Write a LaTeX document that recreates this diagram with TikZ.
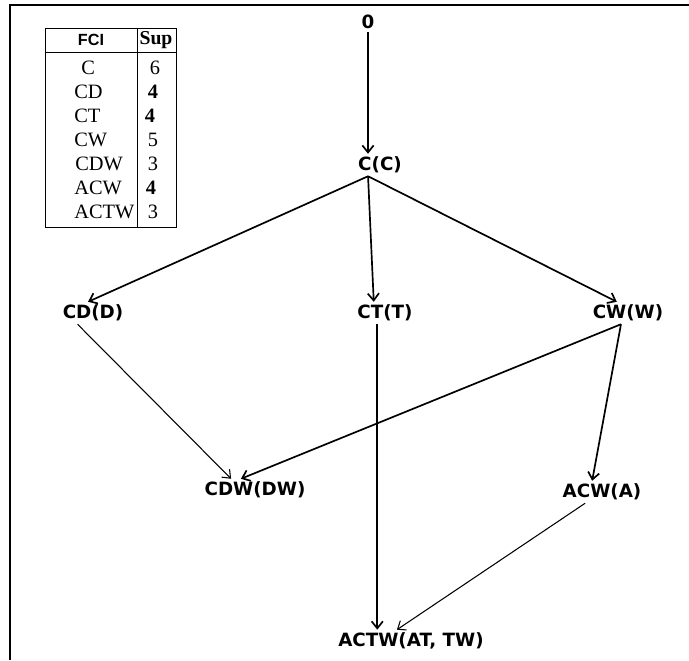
\documentclass[tikz,border=0pt]{standalone}
\usepackage{fontspec}
\setmainfont{Liberation Serif}
\newfontfamily\lblfont{DejaVu Sans}
\newfontfamily\hdfont{Liberation Sans}
\usetikzlibrary{arrows.meta}

\begin{document}
\begin{tikzpicture}[x=0.025cm, y=-0.025cm,
    lbl/.style={font=\lblfont\bfseries\fontsize{13}{15}\selectfont, inner sep=2pt},
    cell/.style={font=\fontsize{14.5}{16}\selectfont, inner sep=0pt},
    edge/.style={-{Straight Barb[length=5pt,width=8pt]}, line width=1.2pt},
    thinedge/.style={-{Straight Barb[length=5pt,width=8pt]}, line width=0.75pt}]
      \useasboundingbox (0,0) rectangle (689,660);
      \draw[line width=1.4pt] (10,660) -- (10,5) -- (689,5);
      \draw[line width=0.6pt] (45,28) rectangle (176,227);
      \draw[line width=0.6pt] (137,28) -- (137,227);
      \draw[line width=0.6pt] (45,52) -- (176,52);
      \node[cell, font=\hdfont\bfseries\fontsize{11.5}{13}\selectfont] (fci) at (91,40) {FCI};
      \node[cell, font=\bfseries\fontsize{14}{15}\selectfont] (sup) at (156,40) {Sup};
      \node[cell, anchor=west] (r1) at (81,68) {C};
      \node[cell, anchor=west] (r2) at (74,92) {CD};
      \node[cell, anchor=west] (r3) at (74,116) {CT};
      \node[cell, anchor=west] (r4) at (74,140) {CW};
      \node[cell, anchor=west] (r5) at (75,164) {CDW};
      \node[cell, anchor=west] (r6) at (74,188) {ACW};
      \node[cell, anchor=west] (r7) at (74,212) {ACTW};
      \node[cell] (v1) at (155,68) {6};
      \node[cell] (v2) at (153,92) {\textbf{4}};
      \node[cell] (v3) at (150,116) {\textbf{4}};
      \node[cell] (v4) at (153,140) {5};
      \node[cell] (v5) at (153,164) {3};
      \node[cell] (v6) at (151,188) {\textbf{4}};
      \node[cell] (v7) at (153,212) {3};
      \node[lbl] (z) at (368,22) {0};
      \node[lbl] (c) at (380,165) {C(C)};
      \node[lbl] (cd) at (93,313) {CD(D)};
      \node[lbl] (ct) at (385,313) {CT(T)};
      \node[lbl] (cw) at (628,313) {CW(W)};
      \node[lbl] (cdw) at (255,490) {CDW(DW)};
      \node[lbl] (acw) at (602,492) {ACW(A)};
      \node[lbl] (actw) at (411,641) {ACTW(AT, TW)};
      \coordinate (ctout) at ([xshift=-5.5pt]ct.south);
      \draw[edge] (z.south) -- (z.south |- c.north);
      \draw[edge] ([xshift=-8.5pt]c.south) -- ([xshift=-3.5pt]cd.north);
      \draw[edge] ([xshift=-8.5pt]c.south) -- ([xshift=-8pt]ct.north);
      \draw[edge] ([xshift=-8.5pt]c.south) -- ([xshift=-8pt]cw.north);
      \draw[thinedge] ([xshift=-11pt]cd.south) -- ([xshift=-17pt]cdw.north);
      \draw[edge] (ctout) -- (ctout |- actw.north);
      \draw[edge] ([xshift=-5pt]cw.south) -- ([xshift=-10pt]cdw.north);
      \draw[edge] ([xshift=-5pt]cw.south) -- ([xshift=-7pt]acw.north);
      \draw[thinedge] ([xshift=-12pt]acw.south) -- ([xshift=-10pt]actw.north);
    \end{tikzpicture}
\end{document}
